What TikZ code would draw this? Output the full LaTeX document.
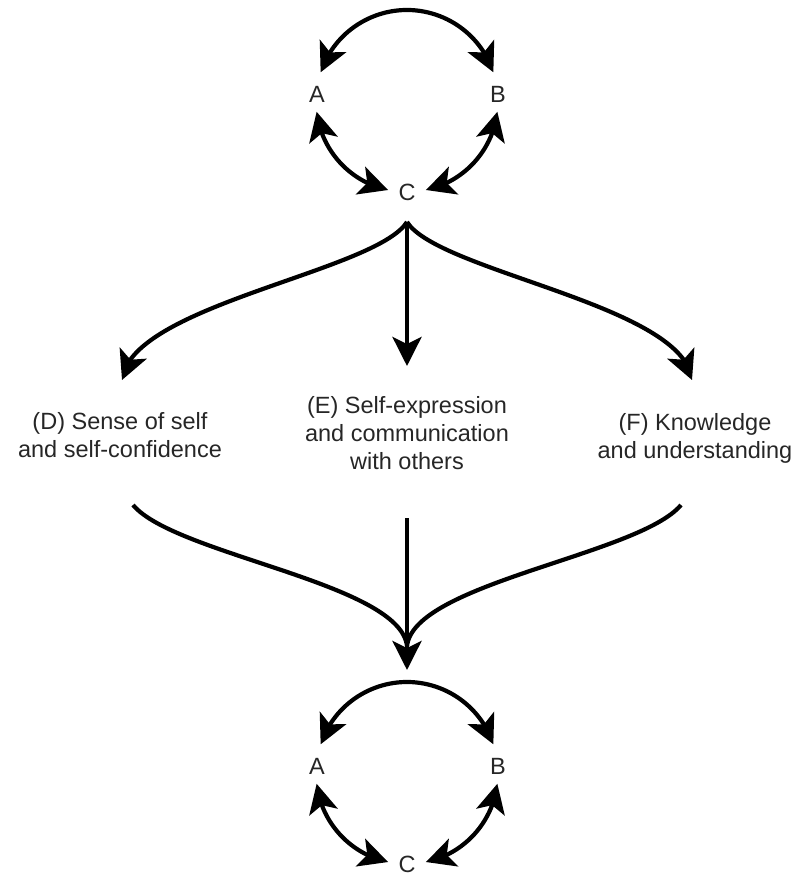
\documentclass[tikz,border=0pt]{standalone}
\usepackage{fontspec}
\setmainfont{Liberation Sans}
\usetikzlibrary{arrows.meta,bending}
\begin{document}
\begin{tikzpicture}[x=1pt,y=1pt,
  tip/.tip={Stealth[length=29pt,width=29pt,inset=7pt]},
  conn/.style={line width=4.2pt,-tip},
  both/.style={line width=4.2pt,tip-tip},
  plain/.style={line width=4.2pt},
  lbl/.style={font=\fontsize{23.5}{28}\selectfont,inner sep=0pt,text=black!85},
  txt/.style={lbl,align=center}]
\useasboundingbox (0,0) rectangle (799,-878);

% the two A-B-C clusters
\foreach \s/\dy in {t/0,b/-672}{
  \begin{scope}[yshift=\dy]
    \coordinate (O\s) at (407,-101);
    \node[lbl] (A\s) at (317,-94) {A};
    \node[lbl] (B\s) at (498,-94) {B};
    \node[lbl] (C\s) at (407,-192) {C};
    \draw[both] ([shift={(161.6:91)}]O\s) arc[start angle=161.6,end angle=18.4,radius=91];
    \draw[both] ([shift={(186.8:91)}]O\s) arc[start angle=186.8,end angle=258,radius=91];
    \draw[both] ([shift={(282:91)}]O\s) arc[start angle=282,end angle=353.2,radius=91];
  \end{scope}
}

% fork from C
\coordinate (fork) at (407,-222);
\coordinate (Dtip) at (122,-380);
\coordinate (Etip) at (407,-366);
\coordinate (Ftip) at (692,-380);
\draw[conn] (fork) -- (Etip);
\draw[conn] (fork) .. controls (375,-272) and (130,-305) .. (Dtip);
\draw[conn] (fork) .. controls (439,-272) and (684,-305) .. (Ftip);

% labels D E F
\node[txt] (D) at (120,-435.5) {(D) Sense of self\\and self-confidence};
\node[txt] (E) at (407,-433.5) {(E) Self-expression\\and communication\\with others};
\node[txt] (F) at (695,-438) {(F) Knowledge\\and understanding};

% merge into lower cluster
\coordinate (Dbot) at (133,-505);
\coordinate (Fbot) at (681,-505);
\coordinate (Ebot) at (407,-518);
\coordinate (merge) at (407,-646);
\coordinate (Mtip) at (407,-670);
\draw[plain] (Dbot) .. controls (175,-555) and (400,-583) .. (merge);
\draw[plain] (Fbot) .. controls (639,-555) and (414,-583) .. (merge);
\draw[conn] (Ebot) -- (Mtip);
\end{tikzpicture}
\end{document}
